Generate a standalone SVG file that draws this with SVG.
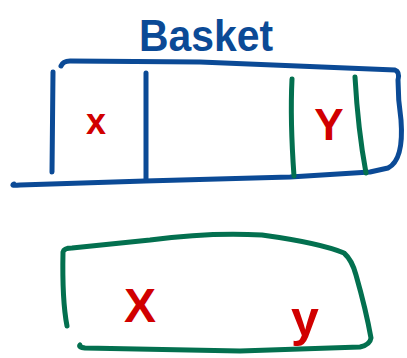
<svg xmlns="http://www.w3.org/2000/svg" width="407" height="358" viewBox="0 0 407 358">
<style>
.b{fill:none;stroke:#0b4a96;stroke-width:5;stroke-linecap:round;stroke-linejoin:round}
.g{fill:none;stroke:#03704f;stroke-width:5;stroke-linecap:round;stroke-linejoin:round}
.t{font-family:"Liberation Sans",Arial,sans-serif;font-weight:bold;fill:#d10000}
</style>
<rect width="407" height="358" fill="#fff"/>
<g id="title"><text x="206" y="51" text-anchor="middle" font-family="Liberation Sans, Arial, sans-serif" font-weight="bold" font-size="44" fill="#0b4a96" textLength="134" lengthAdjust="spacingAndGlyphs">Basket</text></g>
<g id="basket">
<path class="b" d="M61,66 Q63,61 70,61 L200,62 L395,70 Q400,72 398,80 Q398,100 401,120 Q404,160 388,168 L370,172 L290,177 L145,181 L20,185 Q10,186 14,184"/>
<path class="b" d="M53,72 L52,172"/>
<path class="b" d="M146,73 L146,180"/>
<path class="g" d="M292,79 Q290,120 294,176"/>
<path class="g" d="M355,77 Q358,130 366,173"/>
<text class="t" x="96" y="134" font-size="36" text-anchor="middle">x</text>
<text class="t" x="329" y="140" font-size="44" text-anchor="middle">Y</text>
</g>
<g id="set">
<path class="g" d="M67,326 Q62,300 63,252 Q64,248 72,248 L150,240 Q210,232 262,235 Q320,243 344,253 Q352,260 356,275 Q366,310 371,338 Q370,345 360,347 L240,351 L85,348 Q78,347 80,345"/>
<text class="t" x="140" y="322" font-size="48" text-anchor="middle" font-weight="normal">X</text>
<text class="t" x="305" y="336" font-size="50" text-anchor="middle" font-weight="normal">y</text>
</g>
</svg>
